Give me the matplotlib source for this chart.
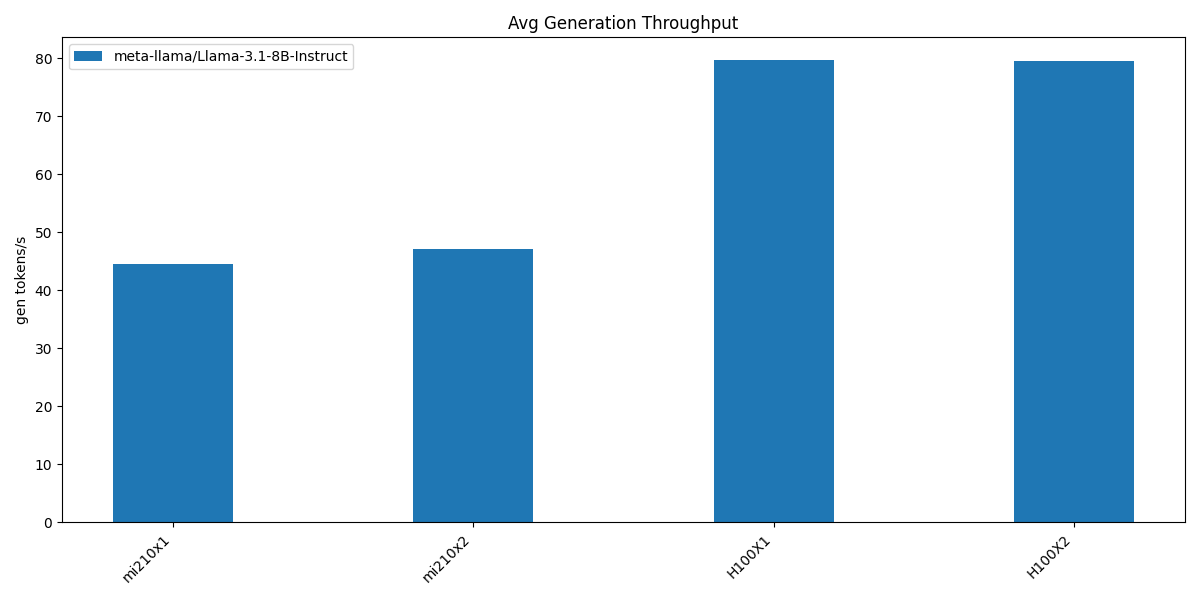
import numpy as np
import matplotlib.pyplot as plt

gpus = ["mi210x1", "mi210x2", "H100X1", "H100X2"]
throughput = [44.6, 47.1, 79.6, 79.5]
model = "meta-llama/Llama-3.1-8B-Instruct"

x = np.arange(len(gpus))
fig, ax = plt.subplots(figsize=(12, 6), dpi=100)
ax.bar(x, throughput, width=0.4, label=model)
ax.set_xticks(x)
ax.set_xticklabels(gpus, rotation=45, ha="right")
ax.set_ylabel("gen tokens/s")
ax.set_title("Avg Generation Throughput")
ax.legend(loc="upper left")
plt.tight_layout()
plt.savefig("out.png")
